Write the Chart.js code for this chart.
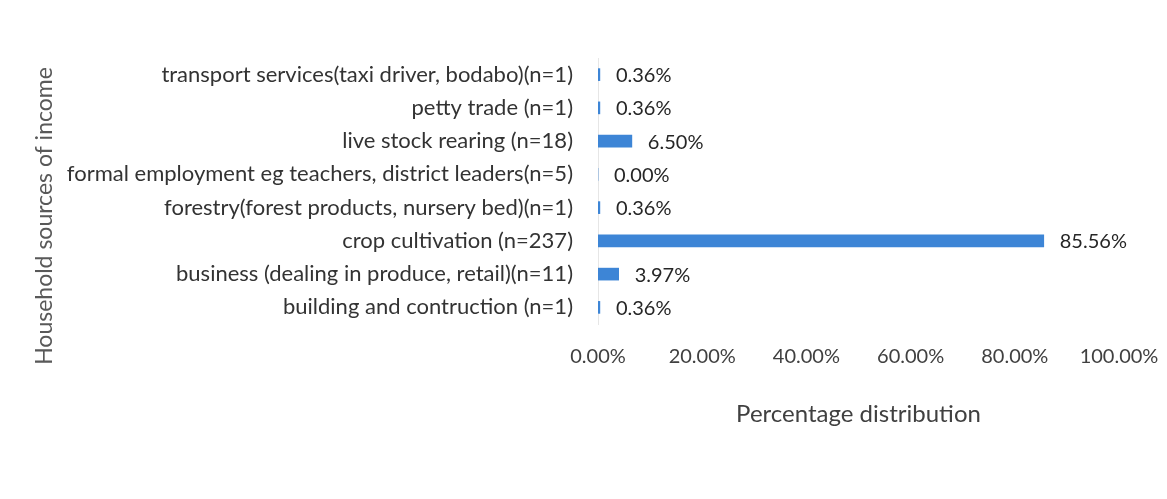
<!DOCTYPE html>
<html>
<head>
<meta charset="utf-8">
<script src="https://cdn.jsdelivr.net/npm/chart.js@4/dist/chart.umd.min.js"></script>
<style>
  html, body { margin: 0; padding: 0; background: #fff; }
  #wrap { width: 1167px; height: 499px; position: relative; }
</style>
</head>
<body>
<div id="wrap"><canvas id="incomeChart"></canvas></div>
<script>
// Household sources of income, top to bottom as in the picture
const categories = [
  'transport services(taxi driver, bodabo)(n=1)',
  'petty trade (n=1)',
  'live stock rearing (n=18)',
  'formal employment eg teachers, district leaders(n=5)',
  'forestry(forest products, nursery bed)(n=1)',
  'crop cultivation (n=237)',
  'business (dealing in produce, retail)(n=11)',
  'building and contruction (n=1)'
];
const percentages = [0.36, 0.36, 6.50, 0.00, 0.36, 85.56, 3.97, 0.36];
const tickValues = [0, 20, 40, 60, 80, 100];
const yTitle = 'Household sources of income';
const xTitle = 'Percentage distribution';

const FONT = "Lato, 'Open Sans', sans-serif";

// value labels to the right of each bar, and the rotated y title
const extraText = {
  id: 'extraText',
  afterDatasetsDraw(chart) {
    const ctx = chart.ctx;
    const meta = chart.getDatasetMeta(0);
    ctx.save();
    ctx.font = '20px ' + FONT;
    ctx.fillStyle = '#262626';
    ctx.textAlign = 'left';
    ctx.textBaseline = 'middle';
    meta.data.forEach((bar, i) => {
      const v = chart.data.datasets[0].data[i];
      ctx.fillText(v.toFixed(2) + '%', bar.x + 16, bar.y + 1);
    });
    ctx.restore();

    // y axis title (sits a little lower than the plot centre in the original)
    ctx.save();
    ctx.translate(45, 216);
    ctx.rotate(-Math.PI / 2);
    ctx.font = '23px ' + FONT;
    ctx.fillStyle = '#595959';
    ctx.textAlign = 'center';
    ctx.textBaseline = 'middle';
    ctx.fillText(yTitle, 0, 0);
    ctx.restore();
  }
};

const ctx = document.getElementById('incomeChart').getContext('2d');
window.incomeChart = new Chart(ctx, {
  type: 'bar',
  data: {
    labels: categories,
    datasets: [{
      data: percentages,
      backgroundColor: '#3d85d6',
      borderWidth: 0,
      barThickness: 12
    }]
  },
  options: {
    indexAxis: 'y',
    responsive: true,
    maintainAspectRatio: false,
    animation: false,
    layout: { padding: { top: 58, left: 0, right: 48, bottom: 70 } },
    scales: {
      x: {
        min: 0,
        max: 100,
        afterBuildTicks(scale) {
          scale.ticks = tickValues.map(v => ({ value: v }));
        },
        afterFit(scale) {
          scale.height = 105;
          scale.paddingLeft = 0;
          scale.paddingRight = 0;
        },
        grid: { display: false, drawTicks: false },
        border: { display: false },
        ticks: {
          padding: 21,
          color: '#404040',
          font: { family: FONT, size: 20 },
          callback: v => v.toFixed(2) + '%'
        },
        title: {
          display: true,
          text: xTitle,
          color: '#404040',
          padding: { top: 0, bottom: 0 },
          font: { family: FONT, size: 24 }
        }
      },
      y: {
        afterFit(scale) { scale.width = 598; },
        grid: { display: false, drawTicks: false },
        border: { display: true, color: '#e6e6e6', width: 1 },
        ticks: {
          padding: 25,
          color: '#333333',
          font: { family: FONT, size: 22 }
        }
      }
    },
    plugins: {
      legend: { display: false },
      tooltip: { enabled: false }
    }
  },
  plugins: [extraText]
});
</script>
</body>
</html>
